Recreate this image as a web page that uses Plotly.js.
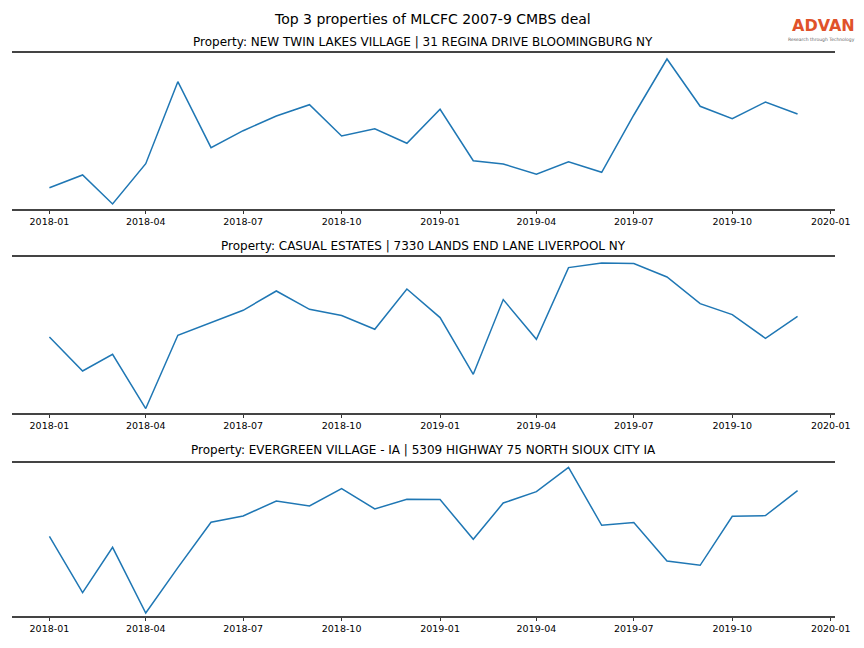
<!DOCTYPE html>
<html>
<head>
<meta charset="utf-8">
<script src="https://cdn.plot.ly/plotly-3.0.1.min.js"></script>
<style>html,body{margin:0;padding:0;background:#fff;}#chart{width:864px;height:648px;}</style>
</head>
<body>
<div id="chart"></div>
<script>
const months = ["2018-01-01","2018-02-01","2018-03-01","2018-04-01","2018-05-01","2018-06-01",
  "2018-07-01","2018-08-01","2018-09-01","2018-10-01","2018-11-01","2018-12-01",
  "2019-01-01","2019-02-01","2019-03-01","2019-04-01","2019-05-01","2019-06-01",
  "2019-07-01","2019-08-01","2019-09-01","2019-10-01","2019-11-01","2019-12-01"];

const titleMain = "Top 3 properties of MLCFC 2007-9 CMBS deal";
const propertyTitles = [
  "Property: NEW TWIN LAKES VILLAGE | 31 REGINA DRIVE BLOOMINGBURG NY",
  "Property: CASUAL ESTATES | 7330 LANDS END LANE LIVERPOOL NY",
  "Property: EVERGREEN VILLAGE - IA | 5309 HIGHWAY 75 NORTH SIOUX CITY IA"
];

const twinLakes = [21.3,34,5,45.3,127.3,61.3,78.3,93,104.3,73,80.3,65.7,
  99.7,48.3,45,34.7,47.3,36.7,94,150,102.7,90.3,107,95];
const casualEstates = [76,42,58.7,4.4,77.7,90.4,102.7,122,103.7,97.4,83.7,124,
  95.4,38.7,113.4,73.7,145.4,150,149.4,136,109.4,98.4,74.7,96.7];
const evergreen = [79.7,23.4,68.7,3,48.4,93.7,100,115,110,127.4,107,116.7,
  116.4,76.7,113,124.4,148.7,90.7,93.4,55,50.7,99.7,100.4,125.4];

const series = [twinLakes, casualEstates, evergreen];
const yRanges = [[0,156],[0,156],[0,153]];
const domainsY = [[0.6775,0.9182],[0.3627,0.6034],[0.0494,0.2855]];
const titleY = [1-42/648, 1-246/648, 1-450/648];
const xDomain = [0.0139, 0.9664];

const t0 = new Date(months[0]).getTime(), t1 = new Date(months[months.length-1]).getTime();
const ts = t1 - t0;
const xr = [new Date(t0-0.05*ts).toISOString(), new Date(t1+0.05*ts).toISOString()];

const font = {family: "DejaVu Sans, sans-serif", color: "#000"};
const traces = [];
const layout = {
  width: 864, height: 648,
  margin: {l:0, r:0, t:0, b:0},
  paper_bgcolor: "#fff", plot_bgcolor: "#fff",
  showlegend: false,
  font: font,
  annotations: [
    {text: titleMain, xref:"paper", yref:"paper", x:0.5, y:1-19/648, showarrow:false,
     xanchor:"center", yanchor:"middle", font:{family:font.family, size:14, color:"#000"}},
    {text: "ADVAN", xref:"paper", yref:"paper", x:1-7/864, y:1-26/648, showarrow:false,
     xanchor:"right", yanchor:"middle", font:{family:"DejaVu Sans, sans-serif", size:16, weight:"bold", color:"#e0522a"}},
    {text: "Research through Technology", xref:"paper", yref:"paper", x:1-7/864, y:1-39/648, showarrow:false,
     xanchor:"right", yanchor:"middle", font:{family:"DejaVu Sans, sans-serif", size:4.5, color:"#666"}}
  ]
};

series.forEach((vals, i) => {
  const n = i === 0 ? "" : String(i+1);
  traces.push({
    x: months, y: vals, type: "scatter", mode: "lines",
    line: {color: "#1f77b4", width: 1.5},
    xaxis: "x"+n, yaxis: "y"+n, hoverinfo: "skip"
  });
  layout["xaxis"+n] = {
    domain: xDomain, anchor: "y"+n, type: "date", range: xr,
    tick0: "2018-01-01", dtick: "M3", tickformat: "%Y-%m",
    ticks: "outside", ticklen: 3.5, tickwidth: 0.8, tickcolor: "#000",
    ticklabelstandoff: 1.5,
    showline: true, mirror: true, linecolor: "#444", linewidth: 1.6,
    showgrid: false, zeroline: false,
    tickfont: {family: font.family, size: 9.5, color: "#000"}
  };
  layout["yaxis"+n] = {
    domain: domainsY[i], anchor: "x"+n, range: yRanges[i],
    showticklabels: false, ticks: "", showgrid: false, zeroline: false, showline: false
  };
  layout.annotations.push({
    text: propertyTitles[i], xref:"paper", yref:"paper",
    x: (xDomain[0]+xDomain[1])/2, y: titleY[i], showarrow:false,
    xanchor:"center", yanchor:"middle", font:{family:font.family, size:12, color:"#000"}
  });
});

Plotly.newPlot("chart", traces, layout, {staticPlot: true, displayModeBar: false});
</script>
</body>
</html>
